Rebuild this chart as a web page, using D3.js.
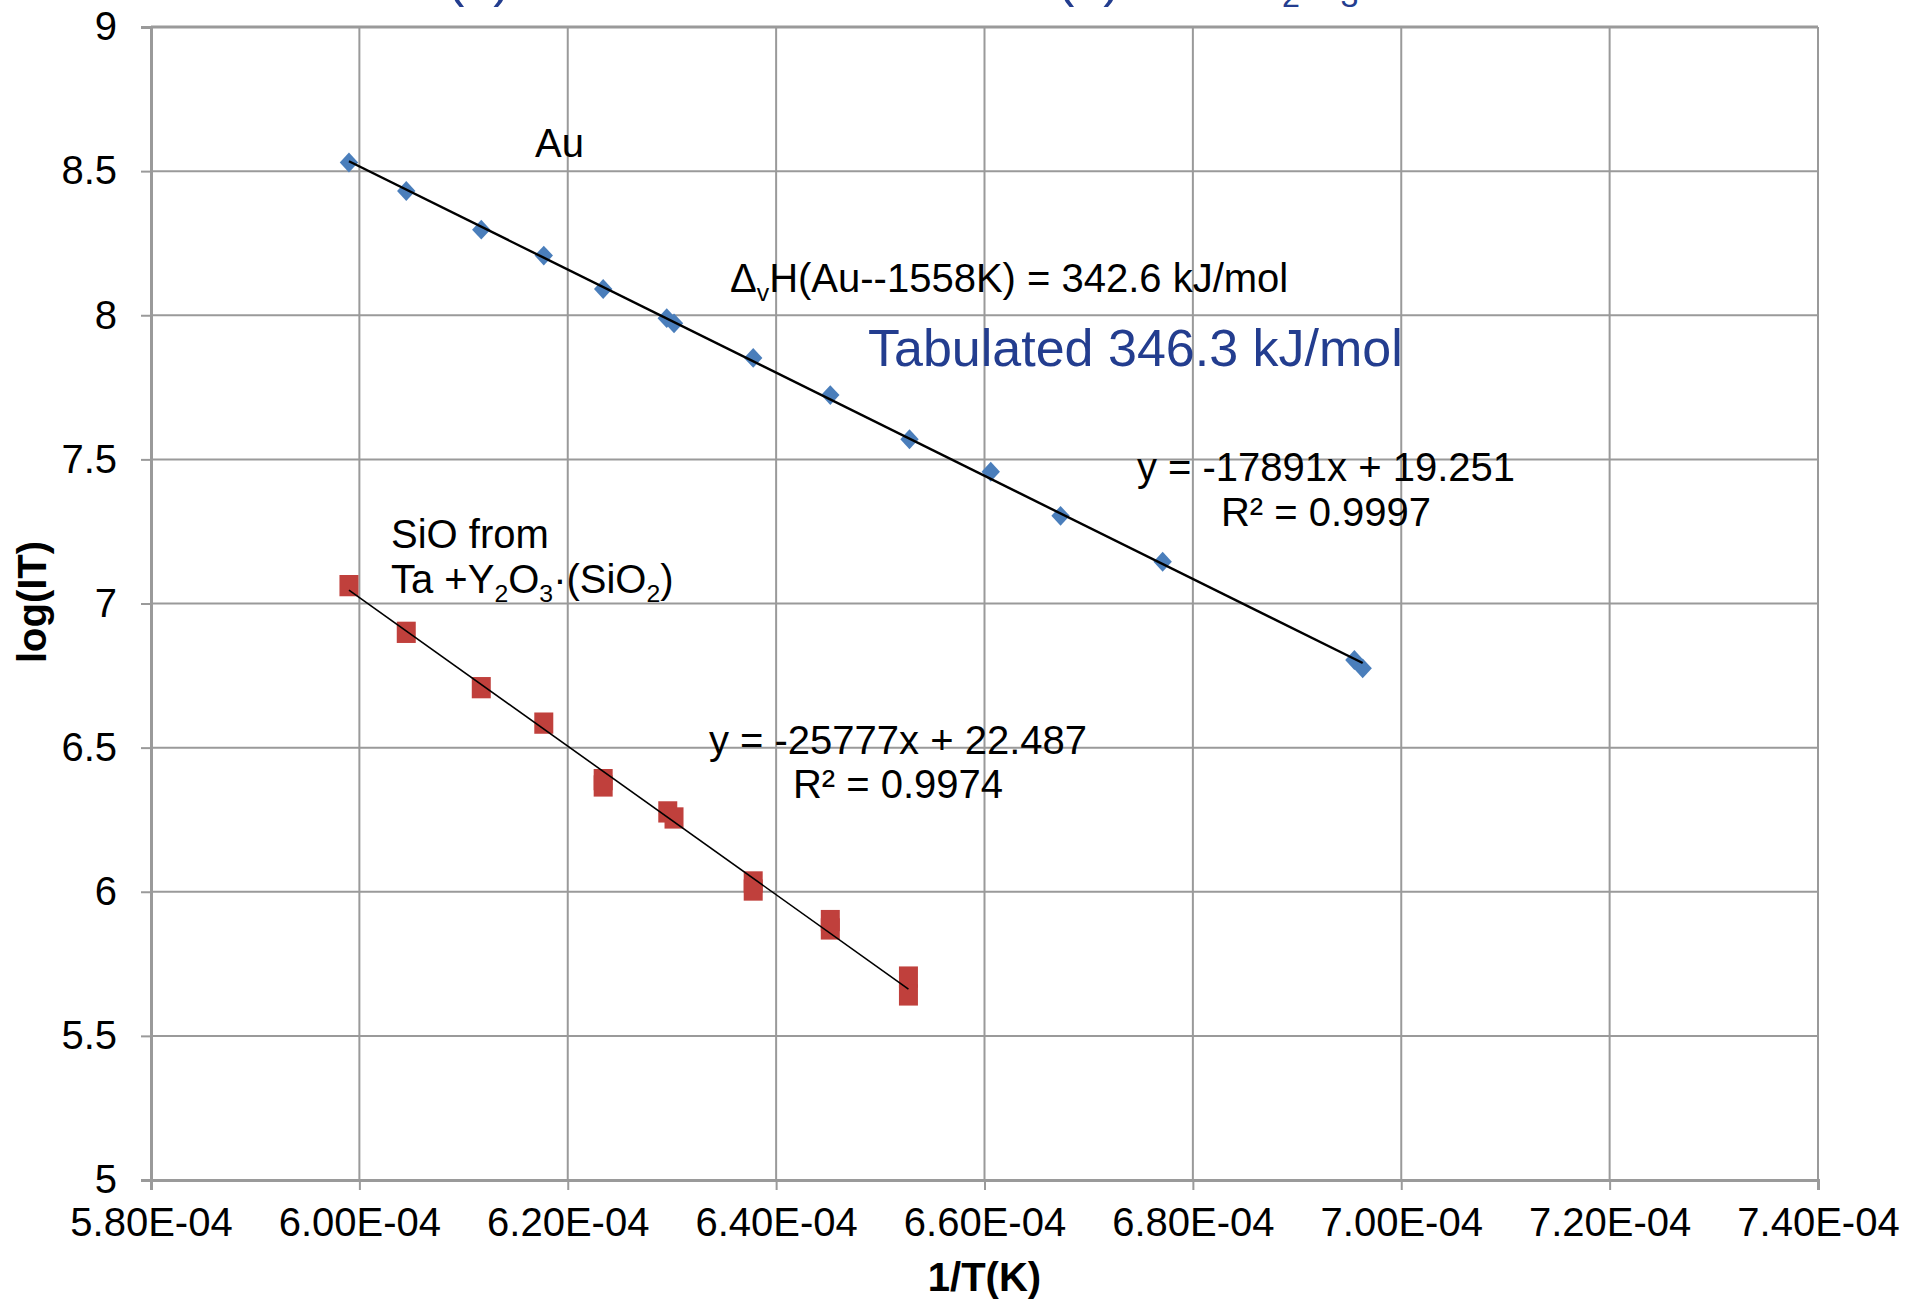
<!DOCTYPE html>
<html>
<head>
<meta charset="utf-8">
<script src="https://cdn.jsdelivr.net/npm/d3@7"></script>
<style>
  body { margin: 0; background: #fff; }
  svg text { font-family: "Liberation Sans", Arial, sans-serif; }
</style>
</head>
<body>
<svg id="chart"></svg>
<script>

  "use strict";

  // axis ticks
  var xTicks = [5.8e-4, 6.0e-4, 6.2e-4, 6.4e-4, 6.6e-4, 6.8e-4, 7.0e-4, 7.2e-4, 7.4e-4];
  var xTickLabels = ["5.80E-04", "6.00E-04", "6.20E-04", "6.40E-04", "6.60E-04", "6.80E-04", "7.00E-04", "7.20E-04", "7.40E-04"];
  var yTicks = [5, 5.5, 6, 6.5, 7, 7.5, 8, 8.5, 9];
  var yTickLabels = ["5", "5.5", "6", "6.5", "7", "7.5", "8", "8.5", "9"];

  // Au series (blue diamonds)
  var auX = [5.990e-4, 6.045e-4, 6.117e-4, 6.177e-4, 6.234e-4, 6.295e-4, 6.302e-4, 6.378e-4,
             6.452e-4, 6.528e-4, 6.606e-4, 6.673e-4, 6.771e-4, 6.955e-4, 6.963e-4];
  var auY = [8.530, 8.431, 8.297, 8.207, 8.091, 7.990, 7.972, 7.852,
             7.723, 7.570, 7.457, 7.304, 7.145, 6.804, 6.775];
  var auFit = [-17891, 19.251];   // slope, intercept

  // SiO series (red squares)
  var sioX = [5.990e-4, 6.045e-4, 6.117e-4, 6.177e-4, 6.234e-4, 6.234e-4, 6.296e-4, 6.302e-4,
              6.378e-4, 6.378e-4, 6.452e-4, 6.452e-4, 6.527e-4, 6.527e-4];
  var sioY = [7.062, 6.900, 6.708, 6.585, 6.389, 6.367, 6.277, 6.256,
              6.034, 6.006, 5.900, 5.871, 5.704, 5.642];
  var sioFit = [-25777, 22.487];

  var W = 1908, H = 1306;
  var margin = {top: 27, right: 90, bottom: 126, left: 151};

  var svg = d3.select('#chart')
    .attr('width', W)
    .attr('height', H)
    .style('display', 'block')
    .style('background', '#fff');

  var x = d3.scaleLinear()
    .domain([xTicks[0], xTicks[xTicks.length - 1]])
    .range([margin.left, W - margin.right]);
  var y = d3.scaleLinear()
    .domain([yTicks[0], yTicks[yTicks.length - 1]])
    .range([H - margin.bottom, margin.top]);

  var zip = function(xs, ys) {
    return xs.map(function(v, i) { return {x: v, y: ys[i]}; });
  };

  var set_grid = function() {
    var g = svg.append('g').attr('class', 'grid');
    g.selectAll('line.h')
      .data(yTicks)
      .enter().append('line')
      .attr('x1', x.range()[0]).attr('x2', x.range()[1])
      .attr('y1', d => y(d)).attr('y2', d => y(d))
      .attr('stroke', '#9a9a9a')
      .attr('stroke-width', (d, i) => (i == yTicks.length - 1 ? 3 : 2));
    g.selectAll('line.v')
      .data(xTicks)
      .enter().append('line')
      .attr('y1', y.range()[0]).attr('y2', y.range()[1])
      .attr('x1', d => x(d)).attr('x2', d => x(d))
      .attr('stroke', '#9a9a9a')
      .attr('stroke-width', 2);
  };

  var set_axes = function() {
    var xAxis = d3.axisBottom(x)
      .tickValues(xTicks)
      .tickFormat((d, i) => xTickLabels[i])
      .tickSize(10)
      .tickPadding(18);
    var gx = svg.append('g')
      .attr('transform', `translate(0,${y.range()[0]})`)
      .call(xAxis);

    var yAxis = d3.axisLeft(y)
      .tickValues(yTicks)
      .tickFormat((d, i) => yTickLabels[i])
      .tickSize(10)
      .tickPadding(24);
    var gy = svg.append('g')
      .attr('transform', `translate(${x.range()[0]},0)`)
      .call(yAxis);

    [gx, gy].forEach(function(g) {
      g.select('.domain').attr('stroke', '#9a9a9a').attr('stroke-width', 3);
      g.selectAll('.tick line').attr('stroke', '#9a9a9a').attr('stroke-width', 2);
      g.selectAll('.tick text')
        .attr('fill', '#000')
        .style('font-size', '40px')
        .style('font-family', '"Liberation Sans", Arial, sans-serif');
    });

    svg.append('text')
      .attr('x', (x.range()[0] + x.range()[1]) / 2)
      .attr('y', 1291)
      .attr('text-anchor', 'middle')
      .style('font-size', '40px')
      .style('font-weight', 'bold')
      .text('1/T(K)');

    svg.append('text')
      .attr('transform', 'translate(46,602) rotate(-90)')
      .attr('text-anchor', 'middle')
      .style('font-size', '40px')
      .style('font-weight', 'bold')
      .text('log(IT)');
  };

  var set_fit = function(xs, fit, width) {
    var ends = d3.extent(xs);
    var line = d3.line().x(d => x(d)).y(d => y(fit[0] * d + fit[1]));
    svg.append('path')
      .attr('d', line(ends))
      .attr('fill', 'none')
      .attr('stroke', '#000')
      .attr('stroke-width', width);
  };

  var set_points = function() {
    svg.append('g')
      .selectAll('path')
      .data(zip(sioX, sioY))
      .enter().append('path')
      .attr('d', d3.symbol(d3.symbolSquare, 19 * 19))
      .attr('transform', d => `translate(${x(d.x)},${y(d.y)}) scale(1,1.12)`)
      .attr('fill', '#c0403c');
    set_fit(sioX, sioFit, 1.6);

    svg.append('g')
      .selectAll('path')
      .data(zip(auX, auY))
      .enter().append('path')
      .attr('d', d3.symbol(d3.symbolSquare, 13 * 13))
      .attr('transform', d => `translate(${x(d.x)},${y(d.y)}) scale(1,1.08) rotate(45)`)
      .attr('fill', '#4a7ebb');
    set_fit(auX, auFit, 2.4);
  };

  // text with optional subscripts: parts = [[text, isSub], ...]
  var rich_text = function(px, py, parts, opts) {
    opts = opts || {};
    var size = opts.size || 40;
    var t = svg.append('text')
      .attr('x', px)
      .attr('y', py)
      .attr('fill', opts.color || '#000')
      .attr('text-anchor', opts.anchor || 'start')
      .style('font-size', size + 'px');
    var shifted = false;
    parts.forEach(function(p) {
      var s = t.append('tspan').text(p[0]);
      if (p[1] && !shifted) { s.attr('dy', size * 0.22).style('font-size', (size * 0.62) + 'px'); shifted = true; }
      else if (p[1]) { s.style('font-size', (size * 0.62) + 'px'); }
      else if (shifted) { s.attr('dy', -size * 0.22); shifted = false; }
    });
    return t;
  };

  var set_labels = function() {
    var blue = '#233d8f';
    // title line, cut off at the top edge as in the source image
    rich_text(447, -4, [['(a) Au', false]], {size: 52, color: blue});
    rich_text(1057, -4, [['(b) Ta + Y', false], ['2', true], ['O', false], ['3', true]], {size: 52, color: blue});

    rich_text(535, 157, [['Au', false]]);
    rich_text(730, 292, [['\u0394', false], ['v', true], ['H(Au--1558K) = 342.6 kJ/mol', false]]);
    rich_text(868, 366, [['Tabulated 346.3 kJ/mol', false]], {size: 52, color: blue});
    rich_text(1326, 481, [['y = -17891x + 19.251', false]], {anchor: 'middle'});
    rich_text(1326, 526, [['R\u00b2 = 0.9997', false]], {anchor: 'middle'});

    rich_text(391, 548, [['SiO from', false]]);
    rich_text(391, 593, [['Ta +Y', false], ['2', true], ['O', false], ['3', true], ['\u00b7(SiO', false], ['2', true], [')', false]]);
    rich_text(898, 754, [['y = -25777x + 22.487', false]], {anchor: 'middle'});
    rich_text(898, 798, [['R\u00b2 = 0.9974', false]], {anchor: 'middle'});
  };

  set_grid();
  set_axes();
  set_points();
  set_labels();

</script>
</body>
</html>
